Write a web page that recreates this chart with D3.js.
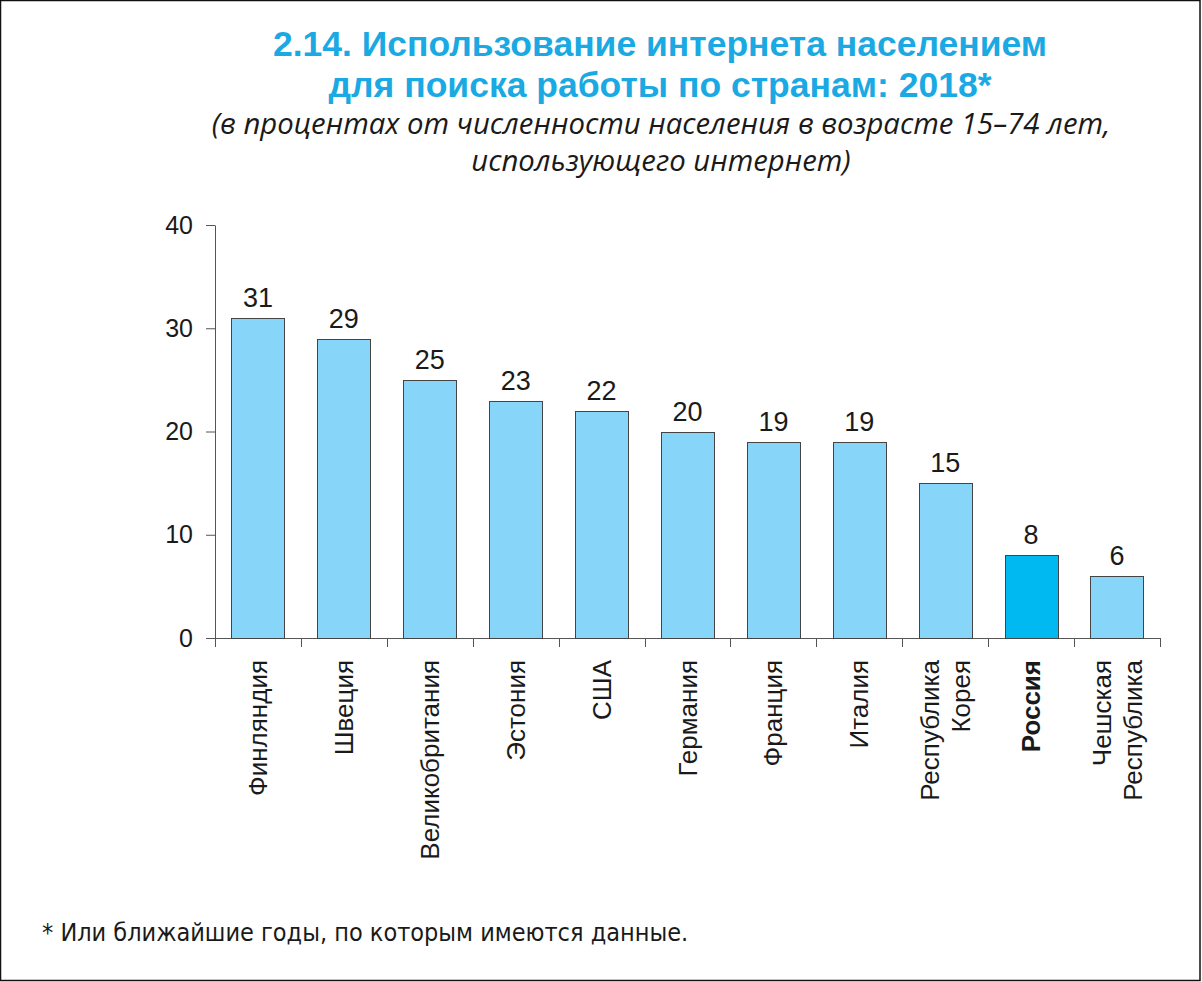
<!DOCTYPE html>
<html>
<head>
<meta charset="utf-8">
<script src="https://cdn.jsdelivr.net/npm/d3@7"></script>
<style>
  html, body { margin: 0; padding: 0; background: #fff; }
  svg { display: block; }
  .narrow { font-family: "Liberation Sans Narrow", "Arial Narrow", "Liberation Sans", sans-serif; }
</style>
</head>
<body>
<div id="chart"></div>
<script>
"use strict";

//
//   DATA
//

var categories = ["Финляндия", "Швеция", "Великобритания", "Эстония", "США", "Германия",
    "Франция", "Италия", "Республика Корея", "Россия", "Чешская Республика"];
var values = [31, 29, 25, 23, 22, 20, 19, 19, 15, 8, 6];
var highlight = "Россия";
var yTicks = [0, 10, 20, 30, 40];

var titleLines = ["2.14. Использование интернета населением", "для поиска работы по странам: 2018*"];
var subtitleLines = ["(в процентах от численности населения в возрасте 15–74 лет,", "использующего интернет)"];
var footnote = "* Или ближайшие годы, по которым имеются данные.";

//
//   CONSTANTS
//

var WIDTH = 1202;
var HEIGHT = 982;
var AXIS_LEFT = 215;
var AXIS_RIGHT = 1160;
var AXIS_TOP = 225;
var AXIS_BOTTOM = 638;
var TICK = 9;

var BAR_COLOR = "#87d5f8";
var HIGHLIGHT_COLOR = "#00b9f0";
var TITLE_COLOR = "#1aa9e2";
var AXIS_COLOR = "#555";

//
//   SET UP
//

var svg = d3.select("#chart").append("svg")
    .attr("width", WIDTH)
    .attr("height", HEIGHT);

// frame
svg.append("rect")
    .attr("x", 0.5).attr("y", 0.5)
    .attr("width", WIDTH - 2.5).attr("height", HEIGHT - 2)
    .attr("fill", "#fff").attr("stroke", "#111").attr("stroke-width", 1.5);

var x = d3.scaleBand().domain(categories).range([AXIS_LEFT, AXIS_RIGHT])
    .paddingInner(0.38).paddingOuter(0.19);
var y = d3.scaleLinear().domain([0, 40]).range([AXIS_BOTTOM, AXIS_TOP]);

// Title
svg.append("g").selectAll("text").data(titleLines).enter().append("text")
    .attr("class", "narrow")
    .attr("x", 660)
    .attr("y", function (d, i) { return 56 + i * 41; })
    .attr("text-anchor", "middle")
    .style("font-weight", "bold")
    .style("font-size", "35.5px")
    .style("fill", TITLE_COLOR)
    .text(function (d) { return d; });

svg.append("g").selectAll("text").data(subtitleLines).enter().append("text")
    .attr("x", 661)
    .attr("y", function (d, i) { return 134 + i * 37; })
    .attr("text-anchor", "middle")
    .style("font-family", "'Open Sans', sans-serif")
    .style("font-style", "italic")
    .style("font-size", "29.3px")
    .style("fill", "#1a1a1a")
    .text(function (d) { return d; });

// Y axis
var yAxis = svg.append("g")
    .attr("transform", "translate(" + AXIS_LEFT + ",0)")
    .call(d3.axisLeft(y).tickValues(yTicks).tickSize(TICK).tickSizeOuter(0).tickPadding(13));
yAxis.selectAll("path, line").attr("stroke", AXIS_COLOR);
yAxis.selectAll("text")
    .attr("class", "narrow")
    .style("font-size", "25px")
    .style("fill", "#1a1a1a")
    .attr("font-family", null);

// X axis line + band edge ticks
var edges = d3.range(categories.length + 1).map(function (i) { return AXIS_LEFT + i * x.step(); });
svg.append("line")
    .attr("x1", AXIS_LEFT).attr("x2", AXIS_RIGHT)
    .attr("y1", y(0) + 0.5).attr("y2", y(0) + 0.5)
    .attr("stroke", AXIS_COLOR);
svg.append("g").selectAll("line").data(edges).enter().append("line")
    .attr("x1", function (d) { return Math.round(d) + 0.5; })
    .attr("x2", function (d) { return Math.round(d) + 0.5; })
    .attr("y1", y(0)).attr("y2", y(0) + TICK)
    .attr("stroke", AXIS_COLOR);

// Bars
svg.append("g").selectAll("rect").data(categories).enter().append("rect")
    .attr("x", function (d) { return Math.round(x(d)) + 0.5; })
    .attr("y", function (d, i) { return Math.round(y(values[i])) + 0.5; })
    .attr("width", Math.round(x.bandwidth()))
    .attr("height", function (d, i) { return Math.round(y(0)) - Math.round(y(values[i])); })
    .attr("fill", function (d) { return d == highlight ? HIGHLIGHT_COLOR : BAR_COLOR; })
    .attr("stroke", "#444")
    .attr("stroke-width", 1);

// Value labels
svg.append("g").selectAll("text").data(categories).enter().append("text")
    .attr("class", "narrow")
    .attr("x", function (d) { return x(d) + x.bandwidth() / 2; })
    .attr("y", function (d, i) { return y(values[i]) - 11; })
    .attr("text-anchor", "middle")
    .style("font-size", "27px")
    .style("fill", "#1a1a1a")
    .text(function (d, i) { return values[i]; });

// Category labels (rotated)
var catLabels = svg.append("g").selectAll("text").data(categories).enter().append("text")
    .attr("class", "narrow")
    .attr("transform", function (d) {
        return "translate(" + (x(d) + x.bandwidth() / 2) + "," + (y(0) + 22) + ") rotate(-90)";
    })
    .attr("text-anchor", "end")
    .style("font-size", "26px")
    .style("font-weight", function (d) { return d == highlight ? "bold" : "normal"; })
    .style("fill", "#1a1a1a");

catLabels.each(function (d) {
    var lines = d.split(" ");
    var lineHeight = 31;
    var first = 9 - (lines.length - 1) * lineHeight / 2;
    d3.select(this).selectAll("tspan").data(lines).enter().append("tspan")
        .attr("x", 0)
        .attr("y", function (l, i) { return first + i * lineHeight; })
        .text(function (l) { return l; });
});

// Footnote
svg.append("text")
    .attr("x", 42)
    .attr("y", 941)
    .style("font-family", "'DejaVu Sans Condensed', sans-serif")
    .style("font-size", "25px")
    .style("fill", "#1a1a1a")
    .text(footnote);
</script>
</body>
</html>
